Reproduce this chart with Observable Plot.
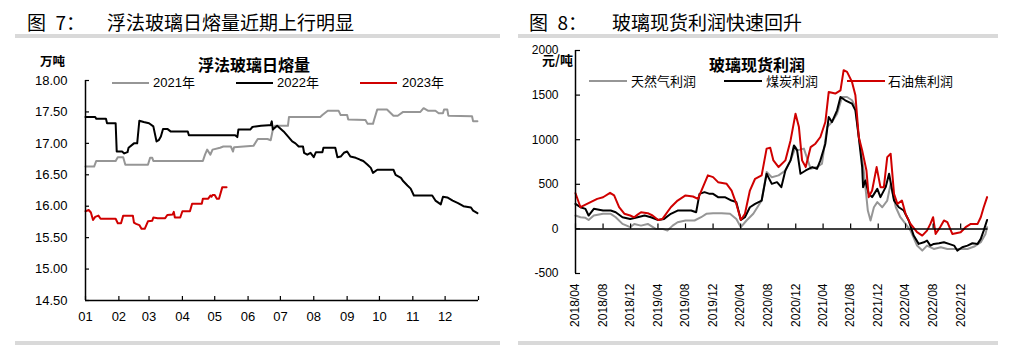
<!DOCTYPE html>
<html><head><meta charset="utf-8">
<script src="https://cdn.jsdelivr.net/npm/d3@7"></script>
<script src="https://cdn.jsdelivr.net/npm/@observablehq/plot@0.6"></script>
<style>
body{margin:0;background:#fff}
#wrap{position:relative;width:1014px;height:364px;overflow:hidden;background:#fff;font-family:"Liberation Sans","Noto Sans CJK SC",sans-serif;color:#000}
.t{position:absolute;white-space:pre;line-height:1}
.bar{position:absolute;background:#d9d9d9}
.sw{position:absolute;height:2px}
#wrap svg{position:absolute;top:0}
</style></head><body><div id="wrap"></div>
<script>
// ---------- Figure 7: daily float glass melting capacity (万吨) ----------
const leftYTicks = [14.5, 15, 15.5, 16, 16.5, 17, 17.5, 18];
const leftMonthLabels = ["01","02","03","04","05","06","07","08","09","10","11","12"];
const melt2021 = [
  ["01-01",16.63],["01-09",16.63],["01-11",16.72],["01-29",16.72],["01-31",16.78],["02-05",16.78],
  ["02-07",16.66],["02-28",16.66],["03-02",16.77],["03-04",16.77],["03-05",16.72],["04-20",16.72],
  ["04-22",16.82],["04-24",16.9],["04-27",16.82],["04-29",16.9],["05-06",16.93],["05-09",16.95],
  ["05-16",16.95],["05-18",16.87],["05-19",16.94],["05-28",16.95],["06-06",16.96],["06-10",17.07],
  ["06-19",17.07],["06-22",17.05],["06-24",17.22],["06-26",17.28],["07-08",17.28],["07-09",17.42],
  ["08-07",17.42],["08-09",17.45],["08-14",17.52],["08-24",17.52],["08-26",17.45],["09-01",17.45],
  ["09-02",17.38],["09-18",17.37],["09-20",17.31],["09-25",17.31],["09-26",17.37],["09-29",17.54],
  ["10-08",17.54],["10-14",17.44],["10-18",17.44],["10-23",17.5],["11-08",17.5],["11-11",17.56],
  ["11-15",17.52],["11-22",17.52],["11-25",17.48],["11-29",17.48],["11-30",17.54],["12-03",17.54],
  ["12-04",17.44],["12-26",17.43],["12-27",17.35],["12-31",17.35]
];
const melt2022 = [
  ["01-01",17.42],["01-10",17.42],["01-11",17.39],["01-20",17.39],["01-21",17.32],["01-29",17.32],
  ["01-30",16.87],["02-04",16.87],["02-06",16.84],["02-09",16.86],["02-10",16.93],["02-15",17.0],
  ["02-18",17.0],["02-20",17.36],["02-24",17.34],["03-01",17.32],["03-05",17.27],["03-08",17.03],
  ["03-10",17.05],["03-12",17.11],["03-14",17.23],["03-18",17.23],["03-21",17.19],["04-06",17.19],
  ["04-07",17.13],["05-20",17.13],["05-22",17.1],["05-23",17.22],["06-03",17.22],["06-05",17.26],
  ["06-08",17.27],["06-13",17.28],["06-20",17.29],["06-22",17.29],["06-23",17.35],["06-24",17.22],
  ["06-28",17.28],["07-04",17.19],["07-08",17.11],["07-12",17.03],["07-15",17.0],["07-18",16.95],
  ["07-22",16.95],["07-23",16.85],["07-26",16.82],["07-29",16.85],["08-01",16.78],["08-03",16.86],
  ["08-09",16.86],["08-10",16.93],["08-21",16.93],["08-23",16.78],["08-26",16.79],["08-29",16.85],
  ["09-01",16.87],["09-04",16.79],["09-09",16.77],["09-13",16.74],["09-16",16.72],["09-20",16.66],
  ["09-23",16.61],["09-25",16.53],["09-29",16.58],["10-14",16.58],["10-16",16.5],["10-21",16.45],
  ["10-23",16.4],["10-27",16.33],["10-30",16.28],["11-02",16.17],["11-19",16.17],["11-22",16.09],
  ["11-27",16.03],["11-29",16.15],["12-03",16.14],["12-08",16.09],["12-13",16.05],["12-18",16.0],
  ["12-25",15.98],["12-27",15.93],["12-31",15.89]
];
const melt2023 = [
  ["01-01",15.92],["01-04",15.94],["01-06",15.9],["01-08",15.78],["01-10",15.83],["01-13",15.85],
  ["01-15",15.8],["01-29",15.8],["01-31",15.73],["02-03",15.73],["02-05",15.85],["02-14",15.85],
  ["02-15",15.74],["02-17",15.72],["02-20",15.7],["02-22",15.64],["02-25",15.64],["02-28",15.76],
  ["03-04",15.77],["03-05",15.82],["03-09",15.81],["03-16",15.81],["03-18",15.86],["03-23",15.87],
  ["03-24",15.91],["03-25",15.82],["03-30",15.82],["04-01",15.92],["04-08",15.92],["04-10",16.04],
  ["04-19",16.04],["04-20",16.12],["04-25",16.12],["04-27",16.17],["04-28",16.15],["04-29",16.18],
  ["05-01",16.18],["05-03",16.12],["05-05",16.12],["05-08",16.3],["05-12",16.3]
];

// ---------- Figure 8: glass spot profit (元/吨) ----------
const rightYTicks = [-500, 0, 500, 1000, 1500, 2000];
const rightTickLabels = ["2018/04","2018/08","2018/12","2019/04","2019/08","2019/12","2020/04",
  "2020/08","2020/12","2021/04","2021/08","2021/12","2022/04","2022/08","2022/12"];
const gasProfit = [
  ["2018-04-01",150],["2018-04-23",131],["2018-05-15",124],["2018-05-29",100],["2018-06-21",150],
  ["2018-08-01",169],["2018-09-04",169],["2018-09-26",131],["2018-10-26",56],["2018-11-29",19],
  ["2018-12-17",56],["2019-01-16",37],["2019-02-15",56],["2019-03-22",0],["2019-04-21",0],
  ["2019-05-13",-19],["2019-06-05",37],["2019-06-27",75],["2019-08-01",94],["2019-09-10",94],
  ["2019-10-09",131],["2019-11-01",169],["2019-12-01",176],["2020-01-08",176],["2020-02-14",169],
  ["2020-03-13",112],["2020-04-02",19],["2020-04-27",94],["2020-05-27",169],["2020-07-03",318],
  ["2020-07-25",637],["2020-08-17",580],["2020-09-16",600],["2020-10-16",655],["2020-11-08",768],
  ["2020-11-30",917],["2020-12-07",880],["2021-01-06",900],["2021-02-05",674],["2021-03-05",693],
  ["2021-03-27",730],["2021-04-19",1142],["2021-05-10",1198],["2021-06-02",1292],["2021-06-24",1479],
  ["2021-07-16",1479],["2021-08-07",1442],["2021-08-22",1367],["2021-09-06",1030],["2021-09-28",655],
  ["2021-10-16",206],["2021-10-28",94],["2021-11-12",243],["2021-11-27",300],["2021-12-19",243],
  ["2022-01-10",318],["2022-01-25",505],["2022-02-17",243],["2022-03-09",131],["2022-04-01",56],
  ["2022-04-23",-19],["2022-05-22",-187],["2022-06-14",-243],["2022-07-05",-187],["2022-08-04",-225],
  ["2022-09-04",-206],["2022-10-03",-225],["2022-11-02",-225],["2022-12-01",-225],["2022-12-31",-225],
  ["2023-01-30",-198],["2023-02-28",-150],["2023-03-21",-56],["2023-03-28",20]
];
const coalProfit = [
  ["2018-04-01",281],["2018-04-23",243],["2018-05-15",225],["2018-05-29",150],["2018-06-21",225],
  ["2018-08-01",206],["2018-09-04",206],["2018-09-26",187],["2018-10-26",131],["2018-11-29",112],
  ["2019-01-01",131],["2019-02-01",150],["2019-03-01",131],["2019-04-02",100],["2019-04-28",112],
  ["2019-05-28",169],["2019-06-27",206],["2019-08-01",206],["2019-08-26",206],["2019-09-17",187],
  ["2019-10-02",393],["2019-10-24",412],["2019-11-16",393],["2019-12-01",393],["2019-12-23",356],
  ["2020-01-22",356],["2020-02-21",318],["2020-03-13",300],["2020-04-02",100],["2020-04-20",131],
  ["2020-05-12",243],["2020-06-04",281],["2020-07-03",318],["2020-07-25",618],["2020-08-17",505],
  ["2020-09-09",524],["2020-09-28",468],["2020-10-16",655],["2020-11-08",768],["2020-11-23",936],
  ["2020-12-07",880],["2020-12-22",618],["2021-01-14",655],["2021-02-12",693],["2021-03-05",674],
  ["2021-03-20",768],["2021-04-11",955],["2021-04-26",1255],["2021-05-10",1198],["2021-06-02",1329],
  ["2021-06-17",1479],["2021-07-08",1442],["2021-08-07",1404],["2021-08-22",1329],["2021-09-06",1030],
  ["2021-09-21",693],["2021-09-25",468],["2021-10-05",543],["2021-10-20",393],["2021-11-04",356],
  ["2021-11-27",449],["2021-12-11",356],["2022-01-03",468],["2022-01-18",618],["2022-02-09",318],
  ["2022-03-02",243],["2022-03-24",206],["2022-04-15",94],["2022-05-07",-75],["2022-05-29",-168],
  ["2022-06-21",-150],["2022-07-05",-131],["2022-07-20",-187],["2022-08-04",-168],["2022-08-27",-161],
  ["2022-09-18",-150],["2022-10-10",-168],["2022-11-02",-187],["2022-11-16",-243],["2022-12-08",-206],
  ["2022-12-31",-187],["2023-01-22",-161],["2023-02-14",-168],["2023-02-28",-112],["2023-03-13",-19],
  ["2023-03-28",100]
];
const cokeProfit = [
  ["2018-04-01",400],["2018-04-23",243],["2018-05-22",280],["2018-07-06",337],["2018-08-01",355],
  ["2018-09-01",404],["2018-09-19",375],["2018-10-11",243],["2018-11-03",170],["2018-11-29",150],
  ["2018-12-17",130],["2019-01-01",160],["2019-01-16",187],["2019-02-15",176],["2019-03-08",150],
  ["2019-04-02",100],["2019-04-21",112],["2019-05-28",243],["2019-06-27",318],["2019-08-01",375],
  ["2019-09-03",363],["2019-09-25",337],["2019-10-17",468],["2019-11-08",600],["2019-12-01",580],
  ["2019-12-23",524],["2020-01-30",505],["2020-02-21",430],["2020-03-13",280],["2020-04-02",100],
  ["2020-04-20",170],["2020-05-12",430],["2020-06-04",562],["2020-07-03",600],["2020-07-25",900],
  ["2020-08-10",910],["2020-08-24",768],["2020-09-16",693],["2020-10-16",768],["2020-11-08",992],
  ["2020-11-30",1292],["2020-12-15",1142],["2020-12-29",768],["2021-01-14",693],["2021-02-05",917],
  ["2021-02-26",955],["2021-03-20",1030],["2021-04-11",1198],["2021-04-26",1535],["2021-05-25",1517],
  ["2021-06-17",1554],["2021-07-01",1779],["2021-07-16",1760],["2021-08-07",1648],["2021-08-22",1498],
  ["2021-09-06",1030],["2021-09-21",880],["2021-10-10",655],["2021-10-20",356],["2021-11-04",431],
  ["2021-11-24",693],["2021-12-11",468],["2021-12-26",468],["2022-01-10",805],["2022-01-25",843],
  ["2022-02-09",393],["2022-02-24",281],["2022-03-16",318],["2022-04-01",169],["2022-04-23",56],
  ["2022-05-22",-37],["2022-06-14",-75],["2022-07-05",-19],["2022-07-20",56],["2022-08-01",131],
  ["2022-08-12",-56],["2022-09-01",19],["2022-09-18",94],["2022-10-03",75],["2022-10-25",-56],
  ["2022-12-01",-37],["2022-12-23",19],["2023-01-15",56],["2023-02-14",56],["2023-02-28",131],
  ["2023-03-13",243],["2023-03-28",356]
];

const C_GRAY = "#969696", C_BLACK = "#000000", C_RED = "#d00000";
const wrap = document.getElementById("wrap");

function addText(txt, left, centerY, size, extra = {}) {
  const d = document.createElement("div");
  d.className = "t";
  d.textContent = txt;
  d.style.fontSize = size + "px";
  d.style.top = (centerY - size * 0.55) + "px";
  d.style.left = left + "px";
  if (extra.bold) d.style.fontWeight = "bold";
  if (extra.family) d.style.fontFamily = extra.family;
  wrap.appendChild(d);
}
function addBox(cls, left, top, width, height, color) {
  const d = document.createElement("div");
  d.className = cls;
  Object.assign(d.style, {left: left + "px", top: top + "px", width: width + "px", height: height + "px"});
  if (color) d.style.background = color;
  wrap.appendChild(d);
}

// frames
addBox("bar", 15, 34, 485, 4);
addBox("bar", 518, 34, 480, 4);
addBox("bar", 15, 341, 485, 4);
addBox("bar", 518, 341, 480, 4);

// figure captions
const CJK = '"Noto Sans CJK SC", sans-serif';
addText("图\u20027：", 27, 22, 19, {family: CJK});
addText("浮法玻璃日熔量近期上行明显", 107, 22, 19, {family: CJK});
addText("图\u20028：", 529, 22, 19, {family: CJK});
addText("玻璃现货利润快速回升", 612, 22, 19, {family: CJK});

// ---------- left chart ----------
const parseMD = d3.utcParse("%m-%d");
const leftStart = new Date(Date.UTC(1900, 0, 1));
const leftEnd = new Date(Date.UTC(1901, 0, 1));
const leftXTicks = d3.utcMonth.range(leftStart, d3.utcDay.offset(leftEnd, 1));
const toLeft = (arr) => arr.map(([md, v]) => ({date: parseMD(md), value: v}));

const leftPlot = Plot.plot({
  width: 507, height: 364,
  marginLeft: 85, marginRight: 29, marginTop: 80, marginBottom: 64,
  style: {background: "transparent", fontFamily: '"Liberation Sans", Arial, sans-serif', fontSize: "13px", color: "#000"},
  x: {type: "utc", domain: [leftStart, leftEnd]},
  y: {domain: [14.5, 18]},
  marks: [
    Plot.axisY({ticks: leftYTicks, tickSize: 0, tickPadding: 18, tickFormat: d3.format(".2f"), label: null}),
    Plot.axisX({ticks: leftXTicks, tickSize: 0, tickPadding: 11,
      tickFormat: d => d.getUTCFullYear() === 1900 ? leftMonthLabels[d.getUTCMonth()] : "", label: null}),
    Plot.line(toLeft(melt2021), {x: "date", y: "value", stroke: C_GRAY, strokeWidth: 2}),
    Plot.line(toLeft(melt2022), {x: "date", y: "value", stroke: C_BLACK, strokeWidth: 2}),
    Plot.line(toLeft(melt2023), {x: "date", y: "value", stroke: C_RED, strokeWidth: 2}),
    Plot.ruleX([leftStart], {y1: 14.5, y2: 18, stroke: "#000", strokeWidth: 1.5}),
    Plot.ruleY([14.5], {stroke: "#000", strokeWidth: 1.5}),
    Plot.ruleX(leftXTicks, {x: d => d, y1: 14.5, y2: 14.5, insetBottom: 4, stroke: "#000", strokeWidth: 1.2}),
    Plot.ruleY(leftYTicks, {y: d => d, x1: leftStart, x2: leftStart, insetRight: -4, stroke: "#000", strokeWidth: 1.2})
  ]
});
leftPlot.style.left = "0px";
wrap.appendChild(leftPlot);

addText("万吨", 40, 61.5, 12.5, {bold: true, family: CJK});
addText("浮法玻璃日熔量", 198, 64.5, 16, {bold: true, family: CJK});
addBox("sw", 112, 82, 37, 2, C_GRAY);
addText("2021年", 153, 83, 13);
addBox("sw", 236, 82, 37, 2, C_BLACK);
addText("2022年", 277, 83, 13);
addBox("sw", 360, 82, 37, 2, C_RED);
addText("2023年", 402, 83, 13);

// ---------- right chart ----------
const parseD = d3.utcParse("%Y-%m-%d");
const parseYM = d3.utcParse("%Y/%m");
const rightStart = new Date(Date.UTC(2018, 3, 1));
const rightEnd = new Date(Date.UTC(2023, 3, 1));
const rightXTicks = rightTickLabels.map(parseYM);
const toRight = (arr) => arr.map(([d, v]) => ({date: parseD(d), value: v}));

const rightPlot = Plot.plot({
  width: 507, height: 364,
  marginLeft: 68, marginRight: 26.5, marginTop: 50, marginBottom: 91,
  style: {background: "transparent", fontFamily: '"Liberation Sans", Arial, sans-serif', fontSize: "12px", color: "#000"},
  x: {type: "utc", domain: [rightStart, rightEnd]},
  y: {domain: [-500, 2000]},
  marks: [
    Plot.axisY({ticks: rightYTicks, tickSize: 0, tickPadding: 17, tickFormat: d => String(d), label: null}),
    Plot.axisX({ticks: rightXTicks, tickSize: 0, tickPadding: 10, tickRotate: -90,
      tickFormat: d3.utcFormat("%Y/%m"), label: null}),
    Plot.line(toRight(gasProfit), {x: "date", y: "value", stroke: C_GRAY, strokeWidth: 2}),
    Plot.line(toRight(coalProfit), {x: "date", y: "value", stroke: C_BLACK, strokeWidth: 2}),
    Plot.line(toRight(cokeProfit), {x: "date", y: "value", stroke: C_RED, strokeWidth: 2}),
    Plot.ruleX([rightStart], {y1: -500, y2: 2000, stroke: "#000", strokeWidth: 1.5}),
    Plot.ruleY([0], {stroke: "#000", strokeWidth: 1.5}),
    Plot.ruleX(rightXTicks, {x: d => d, y1: 0, y2: 0, insetBottom: 5, stroke: "#000", strokeWidth: 1.2}),
    Plot.ruleY(rightYTicks, {y: d => d, x1: rightStart, x2: rightStart, insetRight: -5, stroke: "#000", strokeWidth: 1.2})
  ]
});
rightPlot.style.left = "507px";
wrap.appendChild(rightPlot);

addText("元/吨", 542, 60.5, 13, {bold: true, family: CJK});
addText("玻璃现货利润", 709, 64.5, 16, {bold: true, family: CJK});
addBox("sw", 589, 80, 38, 2, C_GRAY);
addText("天然气利润", 631, 81, 13, {family: CJK});
addBox("sw", 724, 80, 38, 2, C_BLACK);
addText("煤炭利润", 766, 81, 13, {family: CJK});
addBox("sw", 847, 80, 38, 2, C_RED);
addText("石油焦利润", 888, 81, 13, {family: CJK});
</script></body></html>
